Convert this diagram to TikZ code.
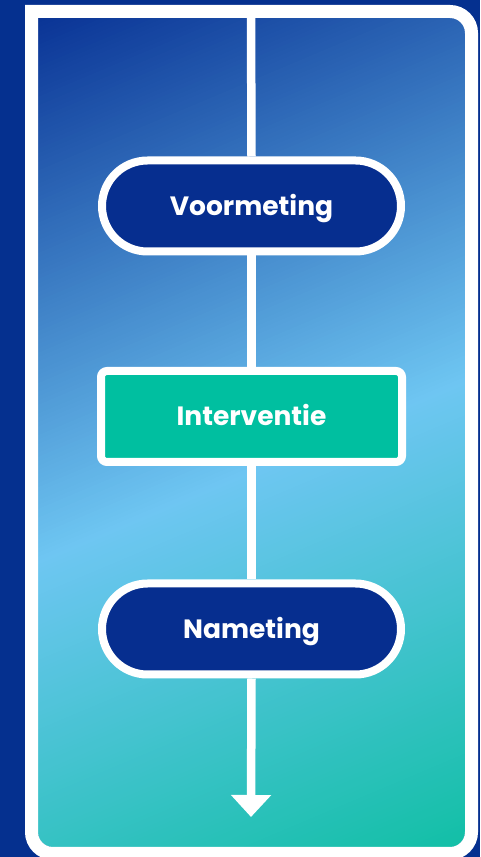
\documentclass[tikz,border=0pt]{standalone}
\usepackage{fontspec}
\newfontfamily\lblfont{Poppins}
\usetikzlibrary{arrows.meta}
\definecolor{bgblue}{HTML}{05308F}
\definecolor{pillblue}{HTML}{062E8F}
\definecolor{gdark}{HTML}{0A3496}
\definecolor{glight}{HTML}{6EC6F2}
\definecolor{gteal}{HTML}{12BFA6}
\definecolor{boxteal}{HTML}{00BFA0}
\tikzset{
  lbltext/.style={text=white, inner sep=0pt, text height=18.5pt, text depth=0pt,
    font=\lblfont\bfseries\fontsize{26.5}{30}\selectfont},
  pill/.style={lbltext, rectangle, rounded corners=45.5pt, draw=white, line width=8pt, fill=pillblue,
    minimum width=299pt, minimum height=91pt},
  stepbox/.style={lbltext, rectangle, rounded corners=6pt, draw=white, line width=8pt, fill=boxteal,
    minimum width=301pt, minimum height=91pt},
  flow/.style={draw=white, line width=8.5pt},
}
\begin{document}
\begin{tikzpicture}[x=1pt,y=1pt]
\useasboundingbox (0,0) rectangle (480,857);
\fill[bgblue] (0,0) rectangle (480,857);
% gradient panel
\begin{scope}
\clip (38,839) -- (450,839) arc[start angle=90,end angle=0,radius=15] -- (465,25)
  arc[start angle=0,end angle=-90,radius=15] -- (53,10) arc[start angle=270,end angle=180,radius=15] -- cycle;
\foreach \s in {-20,-16,...,1000}{
  \pgfmathsetmacro\pa{max(0,min(100,(\s-30)/5))}
  \pgfmathsetmacro\pb{max(0,min(100,(\s-530)/4.3))}
  \colorlet{tmpc}{glight!\pa!gdark}
  \colorlet{stripc}{gteal!\pb!tmpc}
  \pgfmathsetmacro\e{\s+5}
  \fill[stripc] ({\s*0.388+1105.2},{857-\s*0.921+465.6}) -- ({\s*0.388-1105.2},{857-\s*0.921-465.6})
     -- ({\e*0.388-1105.2},{857-\e*0.921-465.6}) -- ({\e*0.388+1105.2},{857-\e*0.921+465.6}) -- cycle;
}
\end{scope}
% white frame
\draw[white, line width=13pt] (31.5,845.5) -- (450,845.5) arc[start angle=90,end angle=0,radius=21.5] -- (471.5,25)
  arc[start angle=0,end angle=-90,radius=21.5] -- (53,3.5) arc[start angle=270,end angle=180,radius=21.5] -- cycle;
% nodes
\coordinate (top) at (251,845);
\coordinate (bottom) at (251,40);
\node[pill] (voor) at (251.5,651) {Voormeting};
\node[stepbox] (interv) at (251.5,440.5) {Interventie};
\node[pill] (na) at (251.5,228) {Nameting};
\draw[flow] (top) -- (voor.north);
\draw[flow] (voor.south) -- (interv.north);
\draw[flow] (interv.south) -- (na.north);
\draw[flow, -{Triangle[width=39pt,length=22pt]}] (na.south) -- (bottom);
\end{tikzpicture}
\end{document}
